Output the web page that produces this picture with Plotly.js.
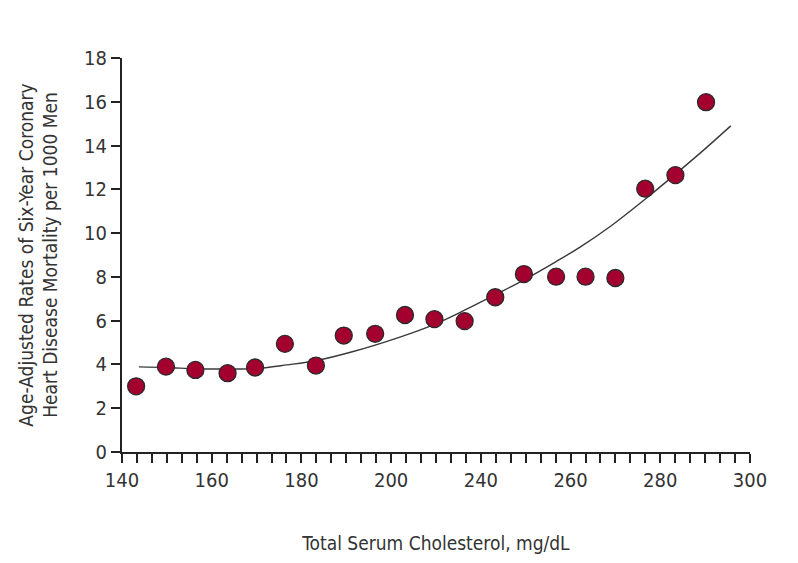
<!DOCTYPE html>
<html>
<head>
<meta charset="utf-8">
<script src="https://cdn.plot.ly/plotly-3.0.1.min.js"></script>
<style>
html,body{margin:0;padding:0;background:#fff;}
#chart{width:798px;height:563px;}
</style>
</head>
<body>
<div id="chart"></div>
<script>
// Observed points (total serum cholesterol, mg/dL vs. age-adjusted 6-yr CHD mortality per 1000 men)
var cholesterol = [143.6, 151.2, 158.7, 166.9, 173.9, 181.5, 189.4, 196.5, 204.5, 212.1,
                   219.6, 227.3, 235.1, 242.4, 250.6, 258.1, 265.7, 273.3, 281.0, 288.8];
var mortality   = [3.0, 3.9, 3.75, 3.6, 3.86, 4.94, 3.95, 5.32, 5.4, 6.26,
                   6.07, 5.98, 7.07, 8.13, 8.01, 8.01, 7.95, 12.03, 12.65, 15.98];

// Fitted curve
var fitX = [144.3, 151.4, 158.9, 166.7, 173.9, 182.0, 189.6, 198.9, 210.8, 219.3,
            227.4, 235.0, 242.7, 250.6, 256.7, 264.3, 273.5, 280.9, 288.1, 295.1];
var fitY = [3.89, 3.86, 3.80, 3.79, 3.81, 3.98, 4.18, 4.59, 5.25, 5.81,
            6.49, 7.18, 7.89, 8.70, 9.36, 10.29, 11.58, 12.68, 13.78, 14.90];

// Tick labels as printed on the original figure
var xTickLabels = ["140", "160", "180", "200", "240", "260", "280", "300"];
var yTickVals = [0, 2, 4, 6, 8, 10, 12, 14, 16, 18];

var xMin = 140, xMax = 300;
var minorPerLabel = 6;
var nIntervals = (xTickLabels.length - 1) * minorPerLabel;
var tickvals = [], ticktext = [];
for (var i = 0; i <= nIntervals; i++) {
  tickvals.push(xMin + (xMax - xMin) * i / nIntervals);
  ticktext.push(i % minorPerLabel === 0 ? xTickLabels[i / minorPerLabel] : "");
}

var FONT = "'Liberation Sans Narrow', 'DejaVu Sans Condensed', 'Arial Narrow', sans-serif";
var TXT = "#333333";
var AX = "#222222";

var traces = [
  {
    x: fitX, y: fitY, type: "scatter", mode: "lines",
    line: {color: "#3a3a3a", width: 1.4, shape: "spline", smoothing: 1},
    hoverinfo: "skip", showlegend: false
  },
  {
    x: cholesterol, y: mortality, type: "scatter", mode: "markers",
    marker: {size: 17, color: "#a3002f", line: {color: "#2a2a2a", width: 1.3}},
    showlegend: false
  }
];

var layout = {
  width: 798, height: 563,
  paper_bgcolor: "#ffffff", plot_bgcolor: "#ffffff",
  margin: {l: 122, r: 48, t: 58, b: 111, pad: 0},
  font: {family: FONT, color: TXT, size: 19},
  showlegend: false,
  xaxis: {
    range: [xMin, xMax], showgrid: false, zeroline: false,
    showline: true, linecolor: AX, linewidth: 2,
    ticks: "outside", ticklen: 9, tickwidth: 2, tickcolor: AX,
    tickmode: "array", tickvals: tickvals, ticktext: ticktext,
    tickfont: {family: FONT, size: 20, color: TXT},
    title: {text: "Total Serum Cholesterol, mg/dL", font: {family: FONT, size: 19, color: TXT}, standoff: 46}
  },
  yaxis: {
    range: [0, 18], showgrid: false, zeroline: false,
    showline: true, linecolor: AX, linewidth: 2,
    ticks: "outside", ticklen: 9, tickwidth: 2, tickcolor: AX,
    tickmode: "array", tickvals: yTickVals,
    tickfont: {family: FONT, size: 20, color: TXT},
    title: {text: "Age-Adjusted Rates of Six-Year Coronary<br>Heart Disease Mortality per 1000 Men",
            font: {family: FONT, size: 19, color: TXT}, standoff: 21}
  }
};

Plotly.newPlot("chart", traces, layout, {displayModeBar: false, staticPlot: true});
</script>
</body>
</html>
